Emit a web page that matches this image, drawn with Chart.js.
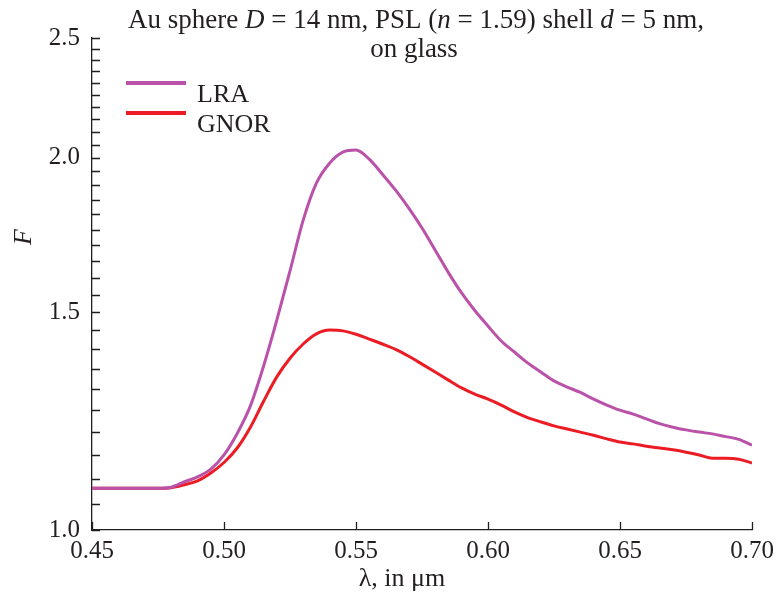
<!DOCTYPE html>
<html>
<head>
<meta charset="utf-8">
<script src="https://cdn.jsdelivr.net/npm/chart.js@4"></script>
<style>
  html, body { margin: 0; padding: 0; background: #fff; }
  canvas { display: block; }
</style>
</head>
<body>
<canvas id="chart" width="776" height="598"></canvas>
<script>
// wavelength grid (um)
const lambda = [0.450, 0.475, 0.480, 0.485, 0.490, 0.495, 0.500, 0.505, 0.510, 0.515,
                0.520, 0.525, 0.530, 0.535, 0.540, 0.545, 0.550, 0.555, 0.560, 0.565,
                0.570, 0.575, 0.580, 0.585, 0.590, 0.595, 0.600, 0.605, 0.610, 0.615,
                0.620, 0.625, 0.630, 0.635, 0.640, 0.645, 0.650, 0.655, 0.660, 0.665,
                0.670, 0.675, 0.680, 0.685, 0.690, 0.695, 0.700];

// enhancement factor F
const lraF = [1.081, 1.081, 1.083, 1.094, 1.104, 1.120, 1.150, 1.197, 1.260, 1.357,
              1.478, 1.620, 1.781, 1.908, 1.980, 2.021, 2.029, 1.995, 1.940, 1.883,
              1.821, 1.755, 1.684, 1.615, 1.555, 1.505, 1.462, 1.422, 1.393, 1.365,
              1.342, 1.320, 1.305, 1.292, 1.276, 1.262, 1.250, 1.241, 1.230, 1.219,
              1.211, 1.205, 1.200, 1.196, 1.190, 1.184, 1.171];

const gnorF = [1.081, 1.081, 1.082, 1.088, 1.096, 1.112, 1.134, 1.165, 1.211, 1.271,
               1.330, 1.377, 1.414, 1.441, 1.451, 1.449, 1.440, 1.427, 1.414, 1.400,
               1.382, 1.362, 1.342, 1.322, 1.303, 1.288, 1.276, 1.262, 1.246, 1.233,
               1.223, 1.214, 1.207, 1.200, 1.193, 1.185, 1.178, 1.174, 1.169, 1.165,
               1.161, 1.156, 1.150, 1.143, 1.143, 1.141, 1.133];

const xTicks = [0.45, 0.50, 0.55, 0.60, 0.65, 0.70];
const yLabelled = [1.0, 1.5, 2.0, 2.5];
const yMinorStep = 0.05;

const SERIF = '"Liberation Serif", "DejaVu Serif", serif';
const INK = '#231f20';

const toPoints = (xs, ys) => xs.map((x, i) => ({ x: x, y: ys[i] }));

// inward tick marks, legend, title and axis titles
const decor = {
    id: 'decor',
    afterDraw(chart) {
        const ctx = chart.ctx;
        const xs = chart.scales.x, ys = chart.scales.y;
        const area = chart.chartArea;
        ctx.save();
        ctx.strokeStyle = INK;
        ctx.lineWidth = 1.3;
        ctx.beginPath();
        xs.ticks.forEach(t => {
            const px = Math.round(xs.getPixelForValue(t.value)) + 0.5;
            ctx.moveTo(px, area.bottom);
            ctx.lineTo(px, area.bottom - 8);
        });
        ys.ticks.forEach(t => {
            const py = Math.round(ys.getPixelForValue(t.value)) + 0.5;
            ctx.moveTo(area.left, py);
            ctx.lineTo(area.left + 8, py);
        });
        ctx.stroke();

        // legend
        const legendY = [83, 113];
        chart.data.datasets.forEach((ds, i) => {
            ctx.strokeStyle = ds.borderColor;
            ctx.lineWidth = 4;
            ctx.beginPath();
            ctx.moveTo(126, legendY[i]);
            ctx.lineTo(186, legendY[i]);
            ctx.stroke();
            ctx.fillStyle = INK;
            ctx.font = '26px ' + SERIF;
            ctx.textAlign = 'left';
            ctx.textBaseline = 'alphabetic';
            ctx.fillText(ds.label, 197, legendY[i] + 19);
        });

        // title with italic symbols
        const parts = [
            ['Au sphere ', false], ['D', true], [' = 14 nm, PSL (', false], ['n', true],
            [' = 1.59) shell ', false], ['d', true], [' = 5 nm,', false]
        ];
        const fontFor = it => (it ? 'italic ' : '') + '27px ' + SERIF;
        let total = 0;
        parts.forEach(p => { ctx.font = fontFor(p[1]); total += ctx.measureText(p[0]).width; });
        let cx = 416 - total / 2;
        ctx.textAlign = 'left';
        parts.forEach(p => {
            ctx.font = fontFor(p[1]);
            ctx.fillText(p[0], cx, 28);
            cx += ctx.measureText(p[0]).width;
        });
        ctx.font = fontFor(false);
        ctx.textAlign = 'center';
        ctx.fillText('on glass', 414, 57);

        // axis titles
        ctx.font = '26px ' + SERIF;
        ctx.fillText('\u03bb, in \u03bcm', 402, 586);
        ctx.save();
        ctx.translate(31, 237);
        ctx.rotate(-Math.PI / 2);
        ctx.font = 'italic 26px ' + SERIF;
        ctx.fillText('F', 0, 0);
        ctx.restore();
        ctx.restore();
    }
};

new Chart(document.getElementById('chart'), {
    type: 'line',
    data: {
        datasets: [
            {
                label: 'LRA',
                data: toPoints(lambda, lraF),
                borderColor: '#b952a8',
                borderWidth: 3,
                pointRadius: 0,
                cubicInterpolationMode: 'monotone'
            },
            {
                label: 'GNOR',
                data: toPoints(lambda, gnorF),
                borderColor: '#ec1c24',
                borderWidth: 3,
                pointRadius: 0,
                cubicInterpolationMode: 'monotone'
            }
        ]
    },
    options: {
        responsive: false,
        animation: false,
        layout: { padding: { top: 38, right: 24, left: 0, bottom: 0 } },
        plugins: { legend: { display: false }, tooltip: { enabled: false } },
        scales: {
            x: {
                type: 'linear',
                min: 0.45,
                max: 0.70,
                afterBuildTicks: s => { s.ticks = xTicks.map(v => ({ value: v })); },
                afterFit: s => { s.height = 68; s.paddingRight = 0; s.paddingLeft = 0; },
                grid: { display: false, drawTicks: false },
                border: { display: true, color: INK, width: 1.3 },
                ticks: {
                    autoSkip: false,
                    maxRotation: 0,
                    padding: 6,
                    color: INK,
                    font: { family: SERIF, size: 25 },
                    callback: v => Number(v).toFixed(2)
                }
            },
            y: {
                type: 'logarithmic',
                min: 1.0,
                max: 2.5,
                afterBuildTicks: s => {
                    const t = [];
                    for (let i = 0; i <= 30; i++) t.push({ value: +(1 + i * yMinorStep).toFixed(2) });
                    s.ticks = t;
                },
                afterFit: s => { s.width = 92; },
                grid: { display: false, drawTicks: false },
                border: { display: true, color: INK, width: 1.3 },
                ticks: {
                    autoSkip: false,
                    padding: 12,
                    color: INK,
                    font: { family: SERIF, size: 25 },
                    callback: v => yLabelled.some(l => Math.abs(l - v) < 1e-6) ? Number(v).toFixed(1) : ''
                }
            }
        }
    },
    plugins: [decor]
});
</script>
</body>
</html>
